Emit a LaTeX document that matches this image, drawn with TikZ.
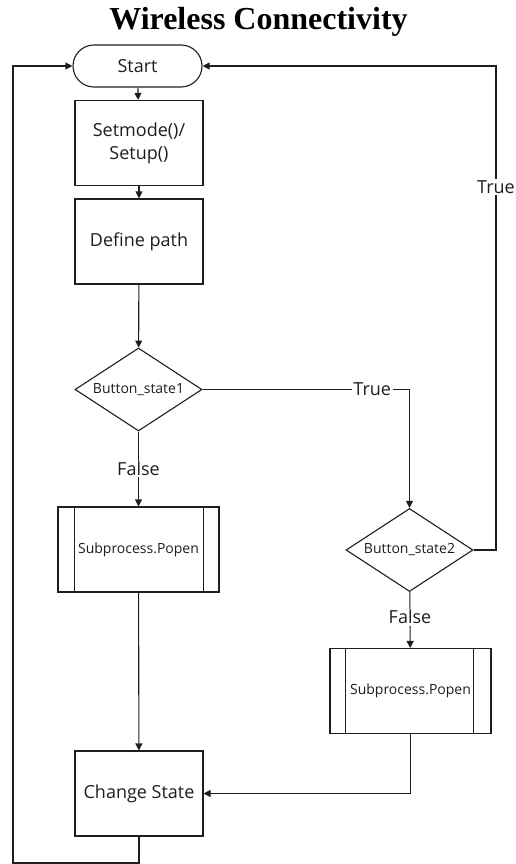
\documentclass[tikz,border=0pt]{standalone}
\usepackage{fontspec}
\setmainfont{Open Sans}
\newfontfamily\titlefont{Liberation Serif}
\usetikzlibrary{shapes.geometric,arrows.meta}
\definecolor{ink}{HTML}{1E1E1E}
\tikzset{
  box/.style={draw=ink, line width=1.1pt, rectangle, minimum width=128pt, minimum height=85pt, inner sep=0pt, font=\fontsize{18}{23}\selectfont, align=center, text=ink},
  subbox/.style={draw=ink, line width=1.1pt, rectangle, minimum width=161pt, minimum height=85pt, inner sep=0pt, font=\fontsize{14}{16}\selectfont, text=ink},
  term/.style={draw=ink, line width=1.1pt, rectangle, rounded corners=21pt, minimum width=129pt, minimum height=42pt, inner sep=0pt, font=\fontsize{18}{20}\selectfont, text=ink},
  dec/.style={draw=ink, line width=1.1pt, diamond, aspect=1.53, minimum width=127pt, minimum height=83pt, inner sep=0pt, font=\fontsize{14}{16}\selectfont, text=ink},
  conn/.style={draw=ink, line width=1.1pt, -{Triangle[length=7pt,width=7pt]}},
  lbl/.style={fill=white, inner sep=1.5pt, font=\fontsize{18}{20}\selectfont, text=ink},
}
\begin{document}
\begin{tikzpicture}[x=1pt,y=-1pt]
\useasboundingbox (0,0) rectangle (515,864);
\node[anchor=base, font=\titlefont\bfseries\fontsize{32}{36}\selectfont] (title) at (258.5,30) {Wireless Connectivity};
\node[term] (start) at (137.5,66) {Start};
\node[box] (setup) at (139,143) {Setmode()/\\Setup()};
\node[box] (define) at (139,241.5) {Define path};
\node[dec] (d1) at (138.5,389.5) {Button\_state1};
\node[subbox] (sp1) at (138.5,549.5) {Subprocess.Popen};
\node[box] (cs) at (139,793.5) {Change State};
\node[dec] (d2) at (409.5,550) {Button\_state2};
\node[subbox] (sp2) at (410.5,691) {Subprocess.Popen};
\draw[ink, line width=1.1pt] ([xshift=17pt]sp1.north west) -- ([xshift=17pt]sp1.south west)
  ([xshift=-16pt]sp1.north east) -- ([xshift=-16pt]sp1.south east);
\draw[ink, line width=1.1pt] ([xshift=16pt]sp2.north west) -- ([xshift=16pt]sp2.south west)
  ([xshift=-18pt]sp2.north east) -- ([xshift=-18pt]sp2.south east);
\coordinate (rtop) at (496,66);
\coordinate (rbot) at (496,550);
\coordinate (lbot) at (13,863);
\coordinate (ltop) at (13,66);
\coordinate (csb) at (139,863);
\draw[conn] (start) -- (setup);
\draw[conn] (setup) -- (define);
\draw[conn] (define) -- (d1);
\draw[conn] (d1) -- node[lbl, pos=0.5] {False} (sp1);
\draw[conn] (sp1) -- (cs);
\draw[conn] (d1.east) -- node[lbl, pos=0.82] {True} (d2.north |- d1.east) -- (d2.north);
\draw[conn] (d2) -- node[lbl, pos=0.45] {False} (sp2);
\draw[conn] (sp2.south) -- (sp2.south |- cs.east) -- (cs.east);
\draw[conn] (d2.east) -- (rbot) -- node[lbl, pos=0.75] {True} (rtop) -- (start.east);
\draw[conn] (cs.south) -- (csb) -- (lbot) -- (ltop) -- (start.west);
\end{tikzpicture}
\end{document}
